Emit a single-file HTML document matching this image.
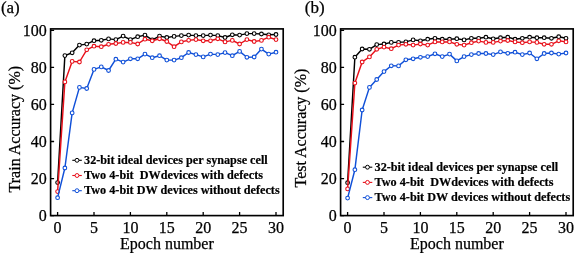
<!DOCTYPE html>
<html><head><meta charset="utf-8"><style>
html,body{margin:0;padding:0;background:#fff;width:575px;height:253px;overflow:hidden}
svg{display:block;will-change:transform}
.r{font-family:"Liberation Serif",serif;font-size:16px;fill:#000;stroke:#000;stroke-width:0.25px}
.lg{font-family:"Liberation Serif",serif;font-size:12.2px;font-weight:bold;fill:#000;stroke:#000;stroke-width:0.2px;white-space:pre}
</style></head><body>
<svg width="575" height="253" viewBox="0 0 575 253">
<text x="0.9" y="13.4" class="r" style="font-size:17px">(a)</text>
<text class="r" text-anchor="middle" transform="translate(19.9,129.2) rotate(-90)">Train Accuracy (%)</text>
<polyline points="57.60,182.60 64.88,55.60 72.16,52.80 79.44,45.10 86.72,44.10 94.00,40.70 101.28,40.30 108.56,38.90 115.84,39.60 123.12,36.10 130.40,39.60 137.68,36.70 144.96,35.10 152.24,39.90 159.52,36.10 166.80,37.50 174.08,36.40 181.36,35.60 188.64,35.10 195.92,35.60 203.20,35.60 210.48,35.10 217.76,35.60 225.04,37.50 232.32,34.80 239.60,35.10 246.88,33.60 254.16,33.60 261.44,34.00 268.72,34.80 276.00,34.50" fill="none" stroke="#000000" stroke-width="1.45" stroke-linejoin="round"/>
<circle cx="57.60" cy="182.60" r="1.85" fill="#fff" stroke="#000000" stroke-width="1.1"/><circle cx="64.88" cy="55.60" r="1.85" fill="#fff" stroke="#000000" stroke-width="1.1"/><circle cx="72.16" cy="52.80" r="1.85" fill="#fff" stroke="#000000" stroke-width="1.1"/><circle cx="79.44" cy="45.10" r="1.85" fill="#fff" stroke="#000000" stroke-width="1.1"/><circle cx="86.72" cy="44.10" r="1.85" fill="#fff" stroke="#000000" stroke-width="1.1"/><circle cx="94.00" cy="40.70" r="1.85" fill="#fff" stroke="#000000" stroke-width="1.1"/><circle cx="101.28" cy="40.30" r="1.85" fill="#fff" stroke="#000000" stroke-width="1.1"/><circle cx="108.56" cy="38.90" r="1.85" fill="#fff" stroke="#000000" stroke-width="1.1"/><circle cx="115.84" cy="39.60" r="1.85" fill="#fff" stroke="#000000" stroke-width="1.1"/><circle cx="123.12" cy="36.10" r="1.85" fill="#fff" stroke="#000000" stroke-width="1.1"/><circle cx="130.40" cy="39.60" r="1.85" fill="#fff" stroke="#000000" stroke-width="1.1"/><circle cx="137.68" cy="36.70" r="1.85" fill="#fff" stroke="#000000" stroke-width="1.1"/><circle cx="144.96" cy="35.10" r="1.85" fill="#fff" stroke="#000000" stroke-width="1.1"/><circle cx="152.24" cy="39.90" r="1.85" fill="#fff" stroke="#000000" stroke-width="1.1"/><circle cx="159.52" cy="36.10" r="1.85" fill="#fff" stroke="#000000" stroke-width="1.1"/><circle cx="166.80" cy="37.50" r="1.85" fill="#fff" stroke="#000000" stroke-width="1.1"/><circle cx="174.08" cy="36.40" r="1.85" fill="#fff" stroke="#000000" stroke-width="1.1"/><circle cx="181.36" cy="35.60" r="1.85" fill="#fff" stroke="#000000" stroke-width="1.1"/><circle cx="188.64" cy="35.10" r="1.85" fill="#fff" stroke="#000000" stroke-width="1.1"/><circle cx="195.92" cy="35.60" r="1.85" fill="#fff" stroke="#000000" stroke-width="1.1"/><circle cx="203.20" cy="35.60" r="1.85" fill="#fff" stroke="#000000" stroke-width="1.1"/><circle cx="210.48" cy="35.10" r="1.85" fill="#fff" stroke="#000000" stroke-width="1.1"/><circle cx="217.76" cy="35.60" r="1.85" fill="#fff" stroke="#000000" stroke-width="1.1"/><circle cx="225.04" cy="37.50" r="1.85" fill="#fff" stroke="#000000" stroke-width="1.1"/><circle cx="232.32" cy="34.80" r="1.85" fill="#fff" stroke="#000000" stroke-width="1.1"/><circle cx="239.60" cy="35.10" r="1.85" fill="#fff" stroke="#000000" stroke-width="1.1"/><circle cx="246.88" cy="33.60" r="1.85" fill="#fff" stroke="#000000" stroke-width="1.1"/><circle cx="254.16" cy="33.60" r="1.85" fill="#fff" stroke="#000000" stroke-width="1.1"/><circle cx="261.44" cy="34.00" r="1.85" fill="#fff" stroke="#000000" stroke-width="1.1"/><circle cx="268.72" cy="34.80" r="1.85" fill="#fff" stroke="#000000" stroke-width="1.1"/><circle cx="276.00" cy="34.50" r="1.85" fill="#fff" stroke="#000000" stroke-width="1.1"/>

<polyline points="57.60,191.60 64.88,81.90 72.16,61.40 79.44,62.00 86.72,49.80 94.00,46.20 101.28,46.70 108.56,44.30 115.84,43.50 123.12,42.40 130.40,42.40 137.68,44.00 144.96,39.20 152.24,40.80 159.52,38.80 166.80,41.50 174.08,46.70 181.36,41.90 188.64,40.30 195.92,39.60 203.20,40.80 210.48,40.80 217.76,38.80 225.04,41.90 232.32,40.40 239.60,44.00 246.88,39.60 254.16,41.50 261.44,40.40 268.72,37.20 276.00,39.60" fill="none" stroke="#e8101a" stroke-width="1.45" stroke-linejoin="round"/>
<circle cx="57.60" cy="191.60" r="1.85" fill="#fff" stroke="#e8101a" stroke-width="1.1"/><circle cx="64.88" cy="81.90" r="1.85" fill="#fff" stroke="#e8101a" stroke-width="1.1"/><circle cx="72.16" cy="61.40" r="1.85" fill="#fff" stroke="#e8101a" stroke-width="1.1"/><circle cx="79.44" cy="62.00" r="1.85" fill="#fff" stroke="#e8101a" stroke-width="1.1"/><circle cx="86.72" cy="49.80" r="1.85" fill="#fff" stroke="#e8101a" stroke-width="1.1"/><circle cx="94.00" cy="46.20" r="1.85" fill="#fff" stroke="#e8101a" stroke-width="1.1"/><circle cx="101.28" cy="46.70" r="1.85" fill="#fff" stroke="#e8101a" stroke-width="1.1"/><circle cx="108.56" cy="44.30" r="1.85" fill="#fff" stroke="#e8101a" stroke-width="1.1"/><circle cx="115.84" cy="43.50" r="1.85" fill="#fff" stroke="#e8101a" stroke-width="1.1"/><circle cx="123.12" cy="42.40" r="1.85" fill="#fff" stroke="#e8101a" stroke-width="1.1"/><circle cx="130.40" cy="42.40" r="1.85" fill="#fff" stroke="#e8101a" stroke-width="1.1"/><circle cx="137.68" cy="44.00" r="1.85" fill="#fff" stroke="#e8101a" stroke-width="1.1"/><circle cx="144.96" cy="39.20" r="1.85" fill="#fff" stroke="#e8101a" stroke-width="1.1"/><circle cx="152.24" cy="40.80" r="1.85" fill="#fff" stroke="#e8101a" stroke-width="1.1"/><circle cx="159.52" cy="38.80" r="1.85" fill="#fff" stroke="#e8101a" stroke-width="1.1"/><circle cx="166.80" cy="41.50" r="1.85" fill="#fff" stroke="#e8101a" stroke-width="1.1"/><circle cx="174.08" cy="46.70" r="1.85" fill="#fff" stroke="#e8101a" stroke-width="1.1"/><circle cx="181.36" cy="41.90" r="1.85" fill="#fff" stroke="#e8101a" stroke-width="1.1"/><circle cx="188.64" cy="40.30" r="1.85" fill="#fff" stroke="#e8101a" stroke-width="1.1"/><circle cx="195.92" cy="39.60" r="1.85" fill="#fff" stroke="#e8101a" stroke-width="1.1"/><circle cx="203.20" cy="40.80" r="1.85" fill="#fff" stroke="#e8101a" stroke-width="1.1"/><circle cx="210.48" cy="40.80" r="1.85" fill="#fff" stroke="#e8101a" stroke-width="1.1"/><circle cx="217.76" cy="38.80" r="1.85" fill="#fff" stroke="#e8101a" stroke-width="1.1"/><circle cx="225.04" cy="41.90" r="1.85" fill="#fff" stroke="#e8101a" stroke-width="1.1"/><circle cx="232.32" cy="40.40" r="1.85" fill="#fff" stroke="#e8101a" stroke-width="1.1"/><circle cx="239.60" cy="44.00" r="1.85" fill="#fff" stroke="#e8101a" stroke-width="1.1"/><circle cx="246.88" cy="39.60" r="1.85" fill="#fff" stroke="#e8101a" stroke-width="1.1"/><circle cx="254.16" cy="41.50" r="1.85" fill="#fff" stroke="#e8101a" stroke-width="1.1"/><circle cx="261.44" cy="40.40" r="1.85" fill="#fff" stroke="#e8101a" stroke-width="1.1"/><circle cx="268.72" cy="37.20" r="1.85" fill="#fff" stroke="#e8101a" stroke-width="1.1"/><circle cx="276.00" cy="39.60" r="1.85" fill="#fff" stroke="#e8101a" stroke-width="1.1"/>

<polyline points="57.60,197.70 64.88,168.00 72.16,112.90 79.44,87.40 86.72,88.50 94.00,69.40 101.28,66.90 108.56,70.50 115.84,59.20 123.12,62.10 130.40,58.80 137.68,58.80 144.96,54.10 152.24,57.70 159.52,55.70 166.80,60.10 174.08,60.10 181.36,57.70 188.64,52.50 195.92,54.60 203.20,56.90 210.48,54.10 217.76,54.60 225.04,52.60 232.32,55.70 239.60,51.40 246.88,57.30 254.16,57.00 261.44,49.10 268.72,54.10 276.00,52.20" fill="none" stroke="#1050d8" stroke-width="1.45" stroke-linejoin="round"/>
<circle cx="57.60" cy="197.70" r="1.85" fill="#fff" stroke="#1050d8" stroke-width="1.1"/><circle cx="64.88" cy="168.00" r="1.85" fill="#fff" stroke="#1050d8" stroke-width="1.1"/><circle cx="72.16" cy="112.90" r="1.85" fill="#fff" stroke="#1050d8" stroke-width="1.1"/><circle cx="79.44" cy="87.40" r="1.85" fill="#fff" stroke="#1050d8" stroke-width="1.1"/><circle cx="86.72" cy="88.50" r="1.85" fill="#fff" stroke="#1050d8" stroke-width="1.1"/><circle cx="94.00" cy="69.40" r="1.85" fill="#fff" stroke="#1050d8" stroke-width="1.1"/><circle cx="101.28" cy="66.90" r="1.85" fill="#fff" stroke="#1050d8" stroke-width="1.1"/><circle cx="108.56" cy="70.50" r="1.85" fill="#fff" stroke="#1050d8" stroke-width="1.1"/><circle cx="115.84" cy="59.20" r="1.85" fill="#fff" stroke="#1050d8" stroke-width="1.1"/><circle cx="123.12" cy="62.10" r="1.85" fill="#fff" stroke="#1050d8" stroke-width="1.1"/><circle cx="130.40" cy="58.80" r="1.85" fill="#fff" stroke="#1050d8" stroke-width="1.1"/><circle cx="137.68" cy="58.80" r="1.85" fill="#fff" stroke="#1050d8" stroke-width="1.1"/><circle cx="144.96" cy="54.10" r="1.85" fill="#fff" stroke="#1050d8" stroke-width="1.1"/><circle cx="152.24" cy="57.70" r="1.85" fill="#fff" stroke="#1050d8" stroke-width="1.1"/><circle cx="159.52" cy="55.70" r="1.85" fill="#fff" stroke="#1050d8" stroke-width="1.1"/><circle cx="166.80" cy="60.10" r="1.85" fill="#fff" stroke="#1050d8" stroke-width="1.1"/><circle cx="174.08" cy="60.10" r="1.85" fill="#fff" stroke="#1050d8" stroke-width="1.1"/><circle cx="181.36" cy="57.70" r="1.85" fill="#fff" stroke="#1050d8" stroke-width="1.1"/><circle cx="188.64" cy="52.50" r="1.85" fill="#fff" stroke="#1050d8" stroke-width="1.1"/><circle cx="195.92" cy="54.60" r="1.85" fill="#fff" stroke="#1050d8" stroke-width="1.1"/><circle cx="203.20" cy="56.90" r="1.85" fill="#fff" stroke="#1050d8" stroke-width="1.1"/><circle cx="210.48" cy="54.10" r="1.85" fill="#fff" stroke="#1050d8" stroke-width="1.1"/><circle cx="217.76" cy="54.60" r="1.85" fill="#fff" stroke="#1050d8" stroke-width="1.1"/><circle cx="225.04" cy="52.60" r="1.85" fill="#fff" stroke="#1050d8" stroke-width="1.1"/><circle cx="232.32" cy="55.70" r="1.85" fill="#fff" stroke="#1050d8" stroke-width="1.1"/><circle cx="239.60" cy="51.40" r="1.85" fill="#fff" stroke="#1050d8" stroke-width="1.1"/><circle cx="246.88" cy="57.30" r="1.85" fill="#fff" stroke="#1050d8" stroke-width="1.1"/><circle cx="254.16" cy="57.00" r="1.85" fill="#fff" stroke="#1050d8" stroke-width="1.1"/><circle cx="261.44" cy="49.10" r="1.85" fill="#fff" stroke="#1050d8" stroke-width="1.1"/><circle cx="268.72" cy="54.10" r="1.85" fill="#fff" stroke="#1050d8" stroke-width="1.1"/><circle cx="276.00" cy="52.20" r="1.85" fill="#fff" stroke="#1050d8" stroke-width="1.1"/>

<rect x="50.6" y="28.9" width="232.6" height="186.7" fill="none" stroke="#000" stroke-width="1.65"/>
<text x="46.8" y="221.00" class="r" text-anchor="end">0</text>
<text x="46.8" y="183.94" class="r" text-anchor="end">20</text>
<text x="46.8" y="146.88" class="r" text-anchor="end">40</text>
<text x="46.8" y="109.82" class="r" text-anchor="end">60</text>
<text x="46.8" y="72.76" class="r" text-anchor="end">80</text>
<text x="46.8" y="35.70" class="r" text-anchor="end">100</text>
<text x="57.60" y="232.7" class="r" text-anchor="middle">0</text>
<text x="94.00" y="232.7" class="r" text-anchor="middle">5</text>
<text x="130.40" y="232.7" class="r" text-anchor="middle">10</text>
<text x="166.80" y="232.7" class="r" text-anchor="middle">15</text>
<text x="203.20" y="232.7" class="r" text-anchor="middle">20</text>
<text x="239.60" y="232.7" class="r" text-anchor="middle">25</text>
<text x="276.00" y="232.7" class="r" text-anchor="middle">30</text>
<path d="M50.6,215.60h3.5 M50.6,178.54h3.5 M50.6,141.48h3.5 M50.6,104.42h3.5 M50.6,67.36h3.5 M50.6,30.30h3.5 M57.60,215.6v-3.5 M94.00,215.6v-3.5 M130.40,215.6v-3.5 M166.80,215.6v-3.5 M203.20,215.6v-3.5 M239.60,215.6v-3.5 M276.00,215.6v-3.5" stroke="#000" stroke-width="1.3" fill="none"/>
<text x="166.9" y="249.3" class="r" text-anchor="middle">Epoch number</text>
<path d="M72.30,160.30H81.80" stroke="#000000" stroke-width="1.1"/>
<circle cx="77.00" cy="160.30" r="1.95" fill="#fff" stroke="#000000" stroke-width="1.0"/>
<text x="84.10" y="163.60" class="lg">32-bit ideal devices per synapse cell</text>
<path d="M72.30,175.50H81.80" stroke="#e8101a" stroke-width="1.1"/>
<circle cx="77.00" cy="175.50" r="1.95" fill="#fff" stroke="#e8101a" stroke-width="1.0"/>
<text x="84.10" y="178.80" class="lg">Two 4-bit  DWdevices with defects</text>
<path d="M72.30,190.70H81.80" stroke="#1050d8" stroke-width="1.1"/>
<circle cx="77.00" cy="190.70" r="1.95" fill="#fff" stroke="#1050d8" stroke-width="1.0"/>
<text x="84.10" y="194.00" class="lg">Two 4-bit DW devices without defects</text>
<text x="304.8" y="13.4" class="r" style="font-size:17px">(b)</text>
<text class="r" text-anchor="middle" transform="translate(306.1,128.1) rotate(-90)">Test Accuracy (%)</text>
<polyline points="347.60,182.70 354.88,57.20 362.16,49.00 369.44,49.30 376.72,44.60 384.00,44.00 391.28,42.40 398.56,42.30 405.84,41.90 413.12,39.90 420.40,40.80 427.68,39.20 434.96,38.30 442.24,39.20 449.52,39.20 456.80,38.70 464.08,39.90 471.36,38.30 478.64,38.30 485.92,37.20 493.20,38.80 500.48,37.70 507.76,37.20 515.04,39.20 522.32,38.30 529.60,37.20 536.88,37.70 544.16,37.70 551.44,38.30 558.72,36.70 566.00,38.30" fill="none" stroke="#000000" stroke-width="1.45" stroke-linejoin="round"/>
<circle cx="347.60" cy="182.70" r="1.85" fill="#fff" stroke="#000000" stroke-width="1.1"/><circle cx="354.88" cy="57.20" r="1.85" fill="#fff" stroke="#000000" stroke-width="1.1"/><circle cx="362.16" cy="49.00" r="1.85" fill="#fff" stroke="#000000" stroke-width="1.1"/><circle cx="369.44" cy="49.30" r="1.85" fill="#fff" stroke="#000000" stroke-width="1.1"/><circle cx="376.72" cy="44.60" r="1.85" fill="#fff" stroke="#000000" stroke-width="1.1"/><circle cx="384.00" cy="44.00" r="1.85" fill="#fff" stroke="#000000" stroke-width="1.1"/><circle cx="391.28" cy="42.40" r="1.85" fill="#fff" stroke="#000000" stroke-width="1.1"/><circle cx="398.56" cy="42.30" r="1.85" fill="#fff" stroke="#000000" stroke-width="1.1"/><circle cx="405.84" cy="41.90" r="1.85" fill="#fff" stroke="#000000" stroke-width="1.1"/><circle cx="413.12" cy="39.90" r="1.85" fill="#fff" stroke="#000000" stroke-width="1.1"/><circle cx="420.40" cy="40.80" r="1.85" fill="#fff" stroke="#000000" stroke-width="1.1"/><circle cx="427.68" cy="39.20" r="1.85" fill="#fff" stroke="#000000" stroke-width="1.1"/><circle cx="434.96" cy="38.30" r="1.85" fill="#fff" stroke="#000000" stroke-width="1.1"/><circle cx="442.24" cy="39.20" r="1.85" fill="#fff" stroke="#000000" stroke-width="1.1"/><circle cx="449.52" cy="39.20" r="1.85" fill="#fff" stroke="#000000" stroke-width="1.1"/><circle cx="456.80" cy="38.70" r="1.85" fill="#fff" stroke="#000000" stroke-width="1.1"/><circle cx="464.08" cy="39.90" r="1.85" fill="#fff" stroke="#000000" stroke-width="1.1"/><circle cx="471.36" cy="38.30" r="1.85" fill="#fff" stroke="#000000" stroke-width="1.1"/><circle cx="478.64" cy="38.30" r="1.85" fill="#fff" stroke="#000000" stroke-width="1.1"/><circle cx="485.92" cy="37.20" r="1.85" fill="#fff" stroke="#000000" stroke-width="1.1"/><circle cx="493.20" cy="38.80" r="1.85" fill="#fff" stroke="#000000" stroke-width="1.1"/><circle cx="500.48" cy="37.70" r="1.85" fill="#fff" stroke="#000000" stroke-width="1.1"/><circle cx="507.76" cy="37.20" r="1.85" fill="#fff" stroke="#000000" stroke-width="1.1"/><circle cx="515.04" cy="39.20" r="1.85" fill="#fff" stroke="#000000" stroke-width="1.1"/><circle cx="522.32" cy="38.30" r="1.85" fill="#fff" stroke="#000000" stroke-width="1.1"/><circle cx="529.60" cy="37.20" r="1.85" fill="#fff" stroke="#000000" stroke-width="1.1"/><circle cx="536.88" cy="37.70" r="1.85" fill="#fff" stroke="#000000" stroke-width="1.1"/><circle cx="544.16" cy="37.70" r="1.85" fill="#fff" stroke="#000000" stroke-width="1.1"/><circle cx="551.44" cy="38.30" r="1.85" fill="#fff" stroke="#000000" stroke-width="1.1"/><circle cx="558.72" cy="36.70" r="1.85" fill="#fff" stroke="#000000" stroke-width="1.1"/><circle cx="566.00" cy="38.30" r="1.85" fill="#fff" stroke="#000000" stroke-width="1.1"/>

<polyline points="347.60,188.90 354.88,83.10 362.16,62.00 369.44,56.90 376.72,49.30 384.00,47.10 391.28,48.70 398.56,45.10 405.84,44.30 413.12,45.10 420.40,44.00 427.68,45.10 434.96,41.90 442.24,41.90 449.52,41.90 456.80,44.30 464.08,45.10 471.36,42.70 478.64,41.10 485.92,42.40 493.20,42.40 500.48,41.10 507.76,40.50 515.04,41.90 522.32,42.70 529.60,41.90 536.88,42.40 544.16,44.30 551.44,44.30 558.72,40.80 566.00,41.90" fill="none" stroke="#e8101a" stroke-width="1.45" stroke-linejoin="round"/>
<circle cx="347.60" cy="188.90" r="1.85" fill="#fff" stroke="#e8101a" stroke-width="1.1"/><circle cx="354.88" cy="83.10" r="1.85" fill="#fff" stroke="#e8101a" stroke-width="1.1"/><circle cx="362.16" cy="62.00" r="1.85" fill="#fff" stroke="#e8101a" stroke-width="1.1"/><circle cx="369.44" cy="56.90" r="1.85" fill="#fff" stroke="#e8101a" stroke-width="1.1"/><circle cx="376.72" cy="49.30" r="1.85" fill="#fff" stroke="#e8101a" stroke-width="1.1"/><circle cx="384.00" cy="47.10" r="1.85" fill="#fff" stroke="#e8101a" stroke-width="1.1"/><circle cx="391.28" cy="48.70" r="1.85" fill="#fff" stroke="#e8101a" stroke-width="1.1"/><circle cx="398.56" cy="45.10" r="1.85" fill="#fff" stroke="#e8101a" stroke-width="1.1"/><circle cx="405.84" cy="44.30" r="1.85" fill="#fff" stroke="#e8101a" stroke-width="1.1"/><circle cx="413.12" cy="45.10" r="1.85" fill="#fff" stroke="#e8101a" stroke-width="1.1"/><circle cx="420.40" cy="44.00" r="1.85" fill="#fff" stroke="#e8101a" stroke-width="1.1"/><circle cx="427.68" cy="45.10" r="1.85" fill="#fff" stroke="#e8101a" stroke-width="1.1"/><circle cx="434.96" cy="41.90" r="1.85" fill="#fff" stroke="#e8101a" stroke-width="1.1"/><circle cx="442.24" cy="41.90" r="1.85" fill="#fff" stroke="#e8101a" stroke-width="1.1"/><circle cx="449.52" cy="41.90" r="1.85" fill="#fff" stroke="#e8101a" stroke-width="1.1"/><circle cx="456.80" cy="44.30" r="1.85" fill="#fff" stroke="#e8101a" stroke-width="1.1"/><circle cx="464.08" cy="45.10" r="1.85" fill="#fff" stroke="#e8101a" stroke-width="1.1"/><circle cx="471.36" cy="42.70" r="1.85" fill="#fff" stroke="#e8101a" stroke-width="1.1"/><circle cx="478.64" cy="41.10" r="1.85" fill="#fff" stroke="#e8101a" stroke-width="1.1"/><circle cx="485.92" cy="42.40" r="1.85" fill="#fff" stroke="#e8101a" stroke-width="1.1"/><circle cx="493.20" cy="42.40" r="1.85" fill="#fff" stroke="#e8101a" stroke-width="1.1"/><circle cx="500.48" cy="41.10" r="1.85" fill="#fff" stroke="#e8101a" stroke-width="1.1"/><circle cx="507.76" cy="40.50" r="1.85" fill="#fff" stroke="#e8101a" stroke-width="1.1"/><circle cx="515.04" cy="41.90" r="1.85" fill="#fff" stroke="#e8101a" stroke-width="1.1"/><circle cx="522.32" cy="42.70" r="1.85" fill="#fff" stroke="#e8101a" stroke-width="1.1"/><circle cx="529.60" cy="41.90" r="1.85" fill="#fff" stroke="#e8101a" stroke-width="1.1"/><circle cx="536.88" cy="42.40" r="1.85" fill="#fff" stroke="#e8101a" stroke-width="1.1"/><circle cx="544.16" cy="44.30" r="1.85" fill="#fff" stroke="#e8101a" stroke-width="1.1"/><circle cx="551.44" cy="44.30" r="1.85" fill="#fff" stroke="#e8101a" stroke-width="1.1"/><circle cx="558.72" cy="40.80" r="1.85" fill="#fff" stroke="#e8101a" stroke-width="1.1"/><circle cx="566.00" cy="41.90" r="1.85" fill="#fff" stroke="#e8101a" stroke-width="1.1"/>

<polyline points="347.60,198.10 354.88,169.70 362.16,110.00 369.44,87.40 376.72,79.50 384.00,71.60 391.28,65.80 398.56,65.90 405.84,59.80 413.12,58.80 420.40,57.30 427.68,56.60 434.96,53.80 442.24,56.60 449.52,54.10 456.80,60.90 464.08,56.60 471.36,54.60 478.64,53.50 485.92,53.50 493.20,54.60 500.48,51.90 507.76,53.30 515.04,52.20 522.32,54.60 529.60,53.00 536.88,58.80 544.16,53.50 551.44,53.00 558.72,54.10 566.00,53.00" fill="none" stroke="#1050d8" stroke-width="1.45" stroke-linejoin="round"/>
<circle cx="347.60" cy="198.10" r="1.85" fill="#fff" stroke="#1050d8" stroke-width="1.1"/><circle cx="354.88" cy="169.70" r="1.85" fill="#fff" stroke="#1050d8" stroke-width="1.1"/><circle cx="362.16" cy="110.00" r="1.85" fill="#fff" stroke="#1050d8" stroke-width="1.1"/><circle cx="369.44" cy="87.40" r="1.85" fill="#fff" stroke="#1050d8" stroke-width="1.1"/><circle cx="376.72" cy="79.50" r="1.85" fill="#fff" stroke="#1050d8" stroke-width="1.1"/><circle cx="384.00" cy="71.60" r="1.85" fill="#fff" stroke="#1050d8" stroke-width="1.1"/><circle cx="391.28" cy="65.80" r="1.85" fill="#fff" stroke="#1050d8" stroke-width="1.1"/><circle cx="398.56" cy="65.90" r="1.85" fill="#fff" stroke="#1050d8" stroke-width="1.1"/><circle cx="405.84" cy="59.80" r="1.85" fill="#fff" stroke="#1050d8" stroke-width="1.1"/><circle cx="413.12" cy="58.80" r="1.85" fill="#fff" stroke="#1050d8" stroke-width="1.1"/><circle cx="420.40" cy="57.30" r="1.85" fill="#fff" stroke="#1050d8" stroke-width="1.1"/><circle cx="427.68" cy="56.60" r="1.85" fill="#fff" stroke="#1050d8" stroke-width="1.1"/><circle cx="434.96" cy="53.80" r="1.85" fill="#fff" stroke="#1050d8" stroke-width="1.1"/><circle cx="442.24" cy="56.60" r="1.85" fill="#fff" stroke="#1050d8" stroke-width="1.1"/><circle cx="449.52" cy="54.10" r="1.85" fill="#fff" stroke="#1050d8" stroke-width="1.1"/><circle cx="456.80" cy="60.90" r="1.85" fill="#fff" stroke="#1050d8" stroke-width="1.1"/><circle cx="464.08" cy="56.60" r="1.85" fill="#fff" stroke="#1050d8" stroke-width="1.1"/><circle cx="471.36" cy="54.60" r="1.85" fill="#fff" stroke="#1050d8" stroke-width="1.1"/><circle cx="478.64" cy="53.50" r="1.85" fill="#fff" stroke="#1050d8" stroke-width="1.1"/><circle cx="485.92" cy="53.50" r="1.85" fill="#fff" stroke="#1050d8" stroke-width="1.1"/><circle cx="493.20" cy="54.60" r="1.85" fill="#fff" stroke="#1050d8" stroke-width="1.1"/><circle cx="500.48" cy="51.90" r="1.85" fill="#fff" stroke="#1050d8" stroke-width="1.1"/><circle cx="507.76" cy="53.30" r="1.85" fill="#fff" stroke="#1050d8" stroke-width="1.1"/><circle cx="515.04" cy="52.20" r="1.85" fill="#fff" stroke="#1050d8" stroke-width="1.1"/><circle cx="522.32" cy="54.60" r="1.85" fill="#fff" stroke="#1050d8" stroke-width="1.1"/><circle cx="529.60" cy="53.00" r="1.85" fill="#fff" stroke="#1050d8" stroke-width="1.1"/><circle cx="536.88" cy="58.80" r="1.85" fill="#fff" stroke="#1050d8" stroke-width="1.1"/><circle cx="544.16" cy="53.50" r="1.85" fill="#fff" stroke="#1050d8" stroke-width="1.1"/><circle cx="551.44" cy="53.00" r="1.85" fill="#fff" stroke="#1050d8" stroke-width="1.1"/><circle cx="558.72" cy="54.10" r="1.85" fill="#fff" stroke="#1050d8" stroke-width="1.1"/><circle cx="566.00" cy="53.00" r="1.85" fill="#fff" stroke="#1050d8" stroke-width="1.1"/>

<rect x="340.6" y="28.9" width="232.60000000000002" height="186.7" fill="none" stroke="#000" stroke-width="1.65"/>
<text x="336.8" y="221.00" class="r" text-anchor="end">0</text>
<text x="336.8" y="183.94" class="r" text-anchor="end">20</text>
<text x="336.8" y="146.88" class="r" text-anchor="end">40</text>
<text x="336.8" y="109.82" class="r" text-anchor="end">60</text>
<text x="336.8" y="72.76" class="r" text-anchor="end">80</text>
<text x="336.8" y="35.70" class="r" text-anchor="end">100</text>
<text x="347.60" y="232.7" class="r" text-anchor="middle">0</text>
<text x="384.00" y="232.7" class="r" text-anchor="middle">5</text>
<text x="420.40" y="232.7" class="r" text-anchor="middle">10</text>
<text x="456.80" y="232.7" class="r" text-anchor="middle">15</text>
<text x="493.20" y="232.7" class="r" text-anchor="middle">20</text>
<text x="529.60" y="232.7" class="r" text-anchor="middle">25</text>
<text x="566.00" y="232.7" class="r" text-anchor="middle">30</text>
<path d="M340.6,215.60h3.5 M340.6,178.54h3.5 M340.6,141.48h3.5 M340.6,104.42h3.5 M340.6,67.36h3.5 M340.6,30.30h3.5 M347.60,215.6v-3.5 M384.00,215.6v-3.5 M420.40,215.6v-3.5 M456.80,215.6v-3.5 M493.20,215.6v-3.5 M529.60,215.6v-3.5 M566.00,215.6v-3.5" stroke="#000" stroke-width="1.3" fill="none"/>
<text x="456.9" y="249.3" class="r" text-anchor="middle">Epoch number</text>
<path d="M362.79,167.20H372.29" stroke="#000000" stroke-width="1.1"/>
<circle cx="367.49" cy="167.20" r="1.95" fill="#fff" stroke="#000000" stroke-width="1.0"/>
<text x="374.59" y="170.50" class="lg">32-bit ideal devices per synapse cell</text>
<path d="M362.79,182.40H372.29" stroke="#e8101a" stroke-width="1.1"/>
<circle cx="367.49" cy="182.40" r="1.95" fill="#fff" stroke="#e8101a" stroke-width="1.0"/>
<text x="374.59" y="185.70" class="lg">Two 4-bit  DWdevices with defects</text>
<path d="M362.79,197.60H372.29" stroke="#1050d8" stroke-width="1.1"/>
<circle cx="367.49" cy="197.60" r="1.95" fill="#fff" stroke="#1050d8" stroke-width="1.0"/>
<text x="374.59" y="200.90" class="lg">Two 4-bit DW devices without defects</text>
</svg>
</body></html>
